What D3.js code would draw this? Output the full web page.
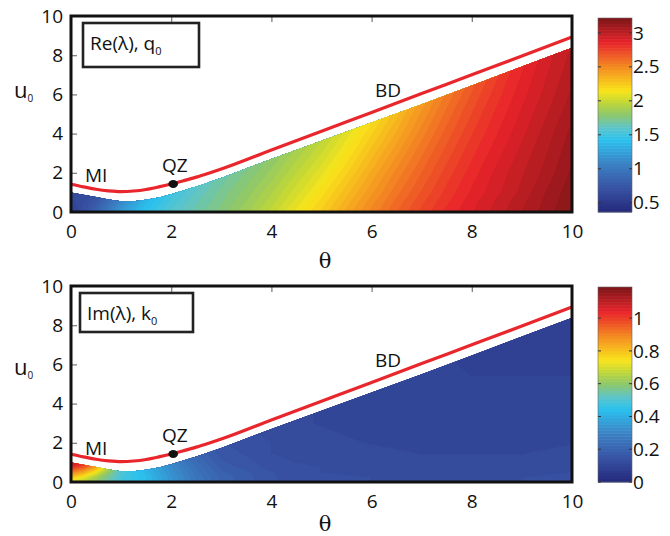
<!DOCTYPE html>
<html><head><meta charset="utf-8">
<script src="https://cdn.jsdelivr.net/npm/d3@7"></script>
<style>
body{margin:0;background:#fff}
svg{display:block}
text{font-family:"Open Sans",sans-serif;fill:#111}
</style>
</head><body>
<svg id="c" width="670" height="536"></svg>
<script>
// ---------- data ----------
const thetaTicks = [0, 2, 4, 6, 8, 10];
const uTicks = [0, 2, 4, 6, 8, 10];
const reTicks = [0.5, 1, 1.5, 2, 2.5, 3];
const imTicks = [0, 0.2, 0.4, 0.6, 0.8, 1];
const reRange = [0.363, 3.22];
const imRange = [0, 1.19];

// red boundary curve (BD / MI)
const bdTheta = [0,0.25,0.5,0.75,1,1.25,1.5,1.75,2,2.25,2.5,2.75,3,4,5,6,7,8,9,10];
const bdU     = [1.42,1.28,1.16,1.08,1.04,1.07,1.15,1.28,1.43,1.60,1.78,1.98,2.19,3.16,4.12,5.08,6.04,7.0,7.96,8.93];
// QZ point
const qzTheta = [2.04];
const qzU = [1.43];

// upper edge of the coloured (computed) region
const domTheta = [0,0.25,0.5,0.75,1,1.25,1.5,1.75,2,2.5,3,4,5,6,7,8,9,10];
const domU     = [0.99,0.88,0.76,0.64,0.55,0.55,0.62,0.74,0.9,1.3,1.74,2.7,3.63,4.56,5.5,6.45,7.42,8.38];

// Re(lambda) field, rows = reU, columns = reTheta
const reTheta = [0,0.5,1,1.5,2,2.5,3,3.5,4,4.5,5,5.5,6,6.5,7,7.5,8,8.5,9,9.5,10];
const reU = [0,0.5,1,2,4,6,8,9];
const reValues = [
 [0.55,0.85,1.22,1.45,1.58,1.68,1.77,1.87,1.99,2.12,2.25,2.39,2.52,2.64,2.74,2.83,2.90,2.97,3.04,3.11,3.18],
 [0.60,0.76,1.11,1.38,1.54,1.65,1.74,1.84,1.95,2.08,2.21,2.35,2.49,2.61,2.72,2.81,2.89,2.96,3.03,3.10,3.17],
 [0.68,0.67,1.00,1.31,1.50,1.62,1.72,1.81,1.92,2.04,2.17,2.31,2.45,2.58,2.69,2.79,2.87,2.94,3.01,3.09,3.16],
 [0.62,0.62,0.79,1.15,1.40,1.55,1.66,1.75,1.85,1.97,2.09,2.23,2.38,2.52,2.64,2.75,2.84,2.92,2.99,3.06,3.14],
 [0.60,0.60,0.60,0.73,1.07,1.36,1.53,1.64,1.73,1.83,1.94,2.08,2.23,2.38,2.53,2.66,2.77,2.86,2.94,3.02,3.10],
 [0.60,0.60,0.60,0.60,0.70,1.00,1.31,1.50,1.62,1.72,1.81,1.94,2.09,2.24,2.41,2.56,2.69,2.80,2.89,2.97,3.05],
 [0.60,0.60,0.60,0.60,0.60,0.80,1.00,1.20,1.40,1.55,1.70,1.81,1.95,2.11,2.27,2.44,2.60,2.73,2.84,2.93,3.01],
 [0.60,0.60,0.60,0.60,0.60,0.70,0.90,1.10,1.30,1.45,1.62,1.74,1.88,2.03,2.19,2.36,2.52,2.66,2.78,2.88,2.97]
];

// Im(lambda) field, rows = imU, columns = imTheta
const imTheta = [0,0.25,0.5,0.75,1,1.5,2,2.5,3,4,5,6,7,8,9,10];
const imU = [0,0.25,0.5,0.75,1,1.5,2,3,4,6,8,9];
const imValues = [
 [0.70,0.66,0.60,0.54,0.48,0.43,0.34,0.26,0.20,0.15,0.14,0.13,0.13,0.13,0.13,0.14],
 [0.80,0.73,0.64,0.56,0.49,0.43,0.34,0.26,0.20,0.15,0.14,0.13,0.13,0.13,0.13,0.14],
 [0.91,0.84,0.73,0.60,0.50,0.42,0.33,0.25,0.19,0.15,0.13,0.13,0.13,0.13,0.13,0.13],
 [1.02,0.96,0.84,0.67,0.52,0.41,0.32,0.24,0.18,0.14,0.13,0.12,0.12,0.12,0.12,0.13],
 [1.09,1.05,0.95,0.74,0.55,0.40,0.30,0.23,0.17,0.14,0.12,0.12,0.12,0.12,0.12,0.12],
 [1.12,1.08,0.98,0.78,0.57,0.38,0.27,0.20,0.16,0.13,0.12,0.12,0.11,0.11,0.11,0.12],
 [1.12,1.08,0.98,0.78,0.57,0.37,0.26,0.19,0.15,0.13,0.12,0.11,0.11,0.11,0.11,0.11],
 [1.12,1.08,0.98,0.78,0.57,0.37,0.25,0.18,0.14,0.12,0.11,0.11,0.11,0.11,0.11,0.11],
 [1.12,1.08,0.98,0.78,0.57,0.37,0.25,0.18,0.14,0.12,0.11,0.11,0.10,0.10,0.10,0.10],
 [1.12,1.08,0.98,0.78,0.57,0.37,0.25,0.18,0.14,0.12,0.11,0.10,0.10,0.09,0.09,0.09],
 [1.12,1.08,0.98,0.78,0.57,0.37,0.25,0.18,0.14,0.12,0.11,0.10,0.10,0.09,0.08,0.08],
 [1.12,1.08,0.98,0.78,0.57,0.37,0.25,0.18,0.14,0.12,0.11,0.10,0.09,0.08,0.07,0.07]
];

// jet-like colour map (printed tones)
const jetStops  = [0,0.125,0.25,0.375,0.4375,0.5,0.5625,0.625,0.75,0.875,1];
const jetColors = ["#24287a","#3953a4","#3b82c4","#2bc2ef","#5ec5c9","#8cc76f","#bdd63a","#f9e51b","#f48a22","#e8232a","#7b1517"];

// ---------- drawing ----------
const svg = d3.select("#c");
const X0 = 71, X1 = 572, PH = 196;

function drawPanel(cfg, idx){
  const g = svg.append("g");
  const x = d3.scaleLinear().domain([0,10]).range([X0,X1]);
  const y = d3.scaleLinear().domain([0,10]).range([cfg.y0+PH, cfg.y0]);
  const [lo,hi] = cfg.range;
  const color = d3.scaleLinear().domain(jetStops.map(t=>lo+t*(hi-lo))).range(jetColors).clamp(true);

  // inner ticks (drawn under the colour field)
  const tg = g.append("g").attr("class","ticks");
  tg.append("g").attr("transform",`translate(0,${cfg.y0})`)
    .call(d3.axisTop(x).tickValues([2,4,6,8]).tickSize(-6).tickFormat(""));
  tg.append("g").attr("transform",`translate(0,${cfg.y0+PH})`)
    .call(d3.axisBottom(x).tickValues([2,4,6,8]).tickSize(-6).tickFormat(""));
  tg.append("g").attr("transform",`translate(${X0},0)`)
    .call(d3.axisLeft(y).tickValues([2,4,6,8]).tickSize(-6).tickFormat(""));
  tg.append("g").attr("transform",`translate(${X1},0)`)
    .call(d3.axisRight(y).tickValues([2,4,6,8]).tickSize(-6).tickFormat(""));
  tg.selectAll(".domain").remove();
  tg.selectAll(".tick line").attr("stroke","#777").attr("stroke-width",1.2);

  // clip to computed region
  const clipId = "clip"+idx;
  const pts = [[0,0]].concat(domTheta.map((t,i)=>[t,domU[i]])).concat([[10,0]]);
  g.append("clipPath").attr("id",clipId).append("path")
    .attr("d", d3.line().x(d=>x(d[0])).y(d=>y(d[1]))(pts)+"Z");

  // filled contours
  const nx = cfg.theta.length, ny = cfg.u.length;
  const flat = cfg.values.flat();
  const nLev = 64, step = (hi-lo)/nLev;
  const thr = d3.range(nLev).map(k=>lo+k*step);
  const contours = d3.contours().size([nx,ny]).thresholds(thr)(flat);
  const ti = d3.scaleLinear().domain(cfg.theta.map((_,i)=>i+0.5)).range(cfg.theta).clamp(true);
  const ui = d3.scaleLinear().domain(cfg.u.map((_,i)=>i+0.5)).range(cfg.u).clamp(true);
  const proj = d3.geoTransform({point(px,py){ this.stream.point(x(ti(px)), y(ui(py))); }});
  const path = d3.geoPath(proj);
  g.append("g").attr("clip-path",`url(#${clipId})`)
    .selectAll("path").data(contours).join("path")
    .attr("d", path)
    .attr("fill", d=>color(d.value+step/2))
    .attr("stroke", d=>color(d.value+step/2)).attr("stroke-width",0.3);

  // red boundary
  g.append("path")
    .attr("d", d3.line().curve(d3.curveMonotoneX).x(d=>x(d[0])).y(d=>y(d[1]))(bdTheta.map((t,i)=>[t,bdU[i]])))
    .attr("fill","none").attr("stroke","#e8262b").attr("stroke-width",3.2);

  // QZ point
  g.selectAll("ellipse.qz").data(qzTheta.map((t,i)=>[t,qzU[i]])).join("ellipse")
    .attr("cx",d=>x(d[0])).attr("cy",d=>y(d[1])).attr("rx",4.8).attr("ry",4).attr("fill","#111");

  // frame
  g.append("rect").attr("x",X0).attr("y",cfg.y0).attr("width",X1-X0).attr("height",PH)
    .attr("fill","none").attr("stroke","#111").attr("stroke-width",3);

  // tick labels
  const xl = g.append("g").attr("transform",`translate(0,${cfg.y0+PH})`)
    .call(d3.axisBottom(x).tickValues(thetaTicks).tickSize(0).tickPadding(13).tickFormat(d3.format("d")));
  const yl = g.append("g").attr("transform",`translate(${X0},0)`)
    .call(d3.axisLeft(y).tickValues(uTicks).tickSize(0).tickPadding(8).tickFormat(d3.format("d")));
  [xl,yl].forEach(a=>{ a.select(".domain").remove(); a.selectAll("text").style("font-family","'Open Sans',sans-serif").style("font-size","19px").attr("fill","#111"); });

  // axis titles
  g.append("text").attr("x",325).attr("y",cfg.thetaY).attr("text-anchor","middle")
    .style("font-family","'DejaVu Serif',serif").style("font-size","21px").text("θ");
  const ut = g.append("text").attr("x",14).attr("y",cfg.uY).style("font-size","22px");
  ut.append("tspan").text("u");
  ut.append("tspan").attr("dy",4).style("font-size","10px").text("0");

  // annotations
  const ann = [["MI",85,cfg.miY],["QZ",162,cfg.qzY],["BD",375,cfg.bdY]];
  g.selectAll("text.ann").data(ann).join("text").attr("class","ann")
    .attr("x",d=>d[1]).attr("y",d=>d[2]).style("font-size","19px").text(d=>d[0]);

  // legend box
  g.append("rect").attr("x",cfg.box[0]).attr("y",cfg.box[1]).attr("width",cfg.box[2]).attr("height",cfg.box[3])
    .attr("fill","#fff").attr("stroke","#222").attr("stroke-width",2.6);
  const lt = g.append("text").attr("x",cfg.box[0]+7).attr("y",cfg.legY).style("font-size","19px");
  lt.append("tspan").text(cfg.legend);
  lt.append("tspan").attr("dy",5).style("font-size","11px").text("0");

  // colour bar
  const cb = d3.scaleLinear().domain([lo,hi]).range([cfg.cb[1], cfg.cb[0]]);
  const cbg = g.append("g");
  cbg.selectAll("rect").data(d3.range(nLev)).join("rect")
    .attr("x",598).attr("width",34)
    .attr("y",k=>cb(lo+(k+1)*step)).attr("height",k=>cb(lo+k*step)-cb(lo+(k+1)*step)+0.5)
    .attr("fill",k=>color(lo+(k+0.5)*step));
  cbg.append("rect").attr("x",598).attr("y",cfg.cb[0]).attr("width",34).attr("height",cfg.cb[1]-cfg.cb[0])
    .attr("fill","none").attr("stroke","#666").attr("stroke-width",0.6);
  const ca = cbg.append("g").attr("transform","translate(632,0)")
    .call(d3.axisRight(cb).tickValues(cfg.ticks).tickSize(0).tickPadding(1).tickFormat(d3.format("~g")));
  ca.select(".domain").remove();
  ca.selectAll("text").style("font-family","'Open Sans',sans-serif").style("font-size","19px").attr("fill","#111");
  const cm = cbg.append("g");
  cm.selectAll("line.l").data(cfg.ticks).join("line").attr("x1",598).attr("x2",601)
    .attr("y1",d=>cb(d)).attr("y2",d=>cb(d)).attr("stroke","#333");
  cm.selectAll("line.r").data(cfg.ticks).join("line").attr("class","r").attr("x1",629).attr("x2",632)
    .attr("y1",d=>cb(d)).attr("y2",d=>cb(d)).attr("stroke","#333");
}

drawPanel({y0:16, range:reRange, ticks:reTicks, theta:reTheta, u:reU, values:reValues,
  cb:[18,212], thetaY:268, uY:98, miY:182, qzY:172, bdY:97,
  box:[83,23,116,44], legY:50, legend:"Re(λ), q"}, 0);
drawPanel({y0:286, range:imRange, ticks:imTicks, theta:imTheta, u:imU, values:imValues,
  cb:[287,482], thetaY:531, uY:375, miY:455, qzY:442, bdY:367,
  box:[80,293,113,39], legY:320, legend:"Im(λ), k"}, 1);
</script>
</body></html>
